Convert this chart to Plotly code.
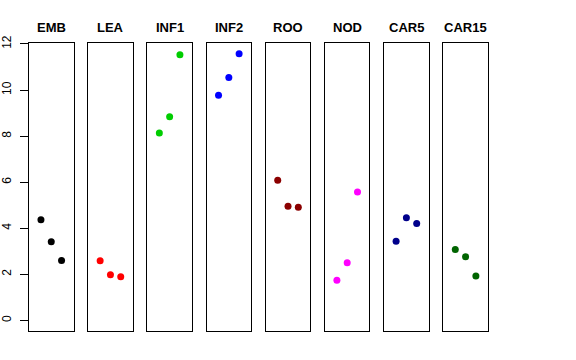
import plotly.graph_objects as go

categories = ["EMB", "LEA", "INF1", "INF2", "ROO", "NOD", "CAR5", "CAR15"]
replicates = [1, 2, 3]
values = {
    "EMB":   [4.37, 3.41, 2.60],
    "LEA":   [2.59, 1.98, 1.89],
    "INF1":  [8.13, 8.84, 11.53],
    "INF2":  [9.77, 10.55, 11.58],
    "ROO":   [6.08, 4.95, 4.91],
    "NOD":   [1.74, 2.50, 5.57],
    "CAR5":  [3.43, 4.46, 4.21],
    "CAR15": [3.08, 2.76, 1.92],
}
colors = ["#000000", "#FF0000", "#00CD00", "#0000FF", "#8B0000", "#FF00FF", "#00008B", "#006400"]
y_ticks = [0, 2, 4, 6, 8, 10, 12]

W, H = 576, 360
ymax = max(max(v) for v in values.values())
yrange = [-0.04 * ymax, ymax * 1.04]
xrange = [-0.16, 4.16]

left0, step, pw = 29.0, 59.19, 44.5
ybot, ytop = 331.0, 43.0

fig = go.Figure()
layout = dict(width=W, height=H, margin=dict(l=0, r=0, t=0, b=0, pad=0, autoexpand=False),
              paper_bgcolor="white", plot_bgcolor="white", showlegend=False,
              font=dict(family="Liberation Sans, Arial, sans-serif", color="black"))
annotations = []
for i, cat in enumerate(categories):
    n = "" if i == 0 else str(i + 1)
    fig.add_trace(go.Scatter(x=replicates, y=values[cat], mode="markers",
                             marker=dict(color=colors[i], size=7),
                             xaxis="x" + n, yaxis="y" + n, cliponaxis=False))
    x0 = (left0 + i * step) / W
    x1 = (left0 + i * step + pw) / W
    layout["xaxis" + n] = dict(domain=[x0, x1], range=xrange, showgrid=False, zeroline=False,
                               showticklabels=False, ticks="", showline=True, mirror=True,
                               linecolor="black", linewidth=1, anchor="y" + n, fixedrange=True,
                               automargin=False)
    yax = dict(domain=[1 - ybot / H, 1 - ytop / H], range=yrange, showgrid=False, zeroline=False,
               showline=True, mirror=True, linecolor="black", linewidth=1,
               anchor="x" + n, fixedrange=True, automargin=False)
    if i == 0:
        yax.update(tickvals=y_ticks, ticktext=[str(t) for t in y_ticks], ticks="outside",
                   ticklen=8, tickcolor="black", tickangle=-90, ticklabelstandoff=4,
                   tickfont=dict(size=12, color="black"))
    else:
        yax.update(showticklabels=False, ticks="")
    layout["yaxis" + n] = yax
    annotations.append(dict(text="<b>" + cat + "</b>", x=(x0 + x1) / 2, y=1 - 28 / H,
                            xref="paper", yref="paper", showarrow=False,
                            xanchor="center", yanchor="middle",
                            font=dict(size=13, color="black")))
layout["annotations"] = annotations
fig.update_layout(**layout)
fig.write_html("out.html", config={"displayModeBar": False},
               post_script="document.body.style.margin='0';document.body.style.padding='0';")
